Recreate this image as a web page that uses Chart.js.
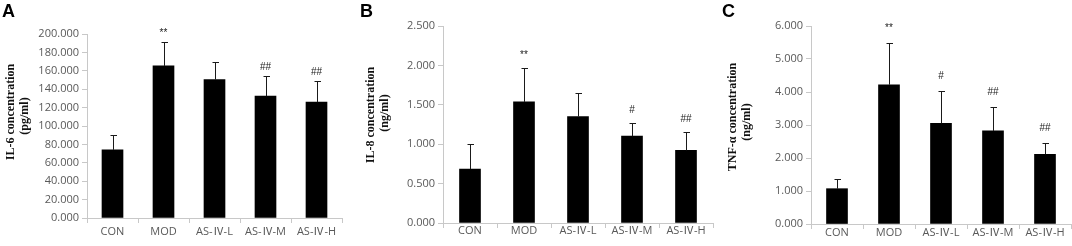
<!DOCTYPE html>
<html>
<head>
<meta charset="utf-8">
<script src="https://cdn.jsdelivr.net/npm/chart.js@4.4.0/dist/chart.umd.min.js"></script>
<style>
  @font-face {
    font-family: 'RomanNum';
    src: local('Noto Sans CJK SC'), local('NotoSansCJKsc-Regular'), local('Noto Sans CJK SC Regular');
    unicode-range: U+2160-2188;
  }
  html, body { margin: 0; padding: 0; background: #fff; }
  #wrap { position: relative; width: 1072px; height: 246px; overflow: hidden; }
  .panel { position: absolute; top: 0; height: 246px; }
</style>
</head>
<body>
<div id="wrap">
  <div class="panel" id="pA" style="left:0px;width:356px;"><canvas id="cA"></canvas></div>
  <div class="panel" id="pB" style="left:358px;width:356px;"><canvas id="cB"></canvas></div>
  <div class="panel" id="pC" style="left:712px;width:360px;"><canvas id="cC"></canvas></div>
</div>
<script>
// ---- data ----
const categories = ['CON', 'MOD', 'AS-Ⅳ-L', 'AS-Ⅳ-M', 'AS-Ⅳ-H'];

const il6Means = [74.1, 165.3, 150.5, 132.4, 125.9];
const il6Errors = [16.3, 26.0, 19.5, 22.0, 22.7];
const il6Marks = ['', '**', '', '##', '##'];
const il6Ticks = { max: 200, step: 20 };

const il8Means = [0.684, 1.537, 1.351, 1.102, 0.921];
const il8Errors = [0.316, 0.435, 0.296, 0.165, 0.236];
const il8Marks = ['', '**', '', '#', '##'];
const il8Ticks = { max: 2.5, step: 0.5 };

const tnfMeans = [1.07, 4.22, 3.05, 2.82, 2.11];
const tnfErrors = [0.28, 1.27, 0.99, 0.72, 0.33];
const tnfMarks = ['', '**', '#', '##', '##'];
const tnfTicks = { max: 6, step: 1 };

// ---- drawing ----
const TICK_FONT = '"Open Sans", "Noto Sans CJK SC", sans-serif';
const XTICK_FONT = 'RomanNum, "Open Sans", "Noto Sans CJK SC", sans-serif';
const AXIS_GREY = '#c8c8c8';
const TEXT_GREY = '#595959';

function makePanel(opt) {
  const H = 246;
  const W = opt.width;
  const left = opt.area.left - opt.offset;
  const right = opt.area.right - opt.offset;

  const extras = {
    id: 'extras_' + opt.canvas,
    afterDatasetsDraw(chart) {
      const ctx = chart.ctx;
      const ys = chart.scales.y;
      const meta = chart.getDatasetMeta(0);
      ctx.save();
      ctx.strokeStyle = '#1a1a1a';
      ctx.lineWidth = 1;
      meta.data.forEach((bar, i) => {
        const x = Math.round(bar.x) + 0.5;
        const yTop = Math.round(ys.getPixelForValue(opt.means[i] + opt.errors[i])) + 0.5;
        ctx.beginPath();
        ctx.moveTo(x, bar.y);
        ctx.lineTo(x, yTop);
        ctx.moveTo(x - 3, yTop);
        ctx.lineTo(x + 3.5, yTop);
        ctx.stroke();
        const m = opt.marks[i];
        if (m) {
          ctx.fillStyle = '#222';
          ctx.font = '10px "Liberation Sans", sans-serif';
          ctx.textAlign = 'center';
          ctx.textBaseline = 'middle';
          ctx.fillText(m, bar.x, yTop - opt.markGap);
        }
      });
      ctx.restore();
    },
    afterDraw(chart) {
      const ctx = chart.ctx;
      ctx.save();
      ctx.fillStyle = '#000';
      ctx.font = 'bold 18px "Liberation Sans", Arial, sans-serif';
      ctx.textAlign = 'left';
      ctx.textBaseline = 'top';
      ctx.fillText(opt.letter, opt.letterX, 3);
      ctx.font = 'bold 12px "Liberation Serif", "Times New Roman", serif';
      ctx.textAlign = 'center';
      ctx.textBaseline = 'middle';
      ctx.fillStyle = '#111';
      opt.title.forEach((t, k) => {
        ctx.save();
        ctx.translate(opt.titleX[k], opt.titleY[k]);
        ctx.rotate(-Math.PI / 2);
        ctx.fillText(t, 0, 0);
        ctx.restore();
      });
      ctx.restore();
    }
  };

  return new Chart(document.getElementById(opt.canvas), {
    type: 'bar',
    data: {
      labels: categories,
      datasets: [{
        data: opt.means,
        backgroundColor: '#000',
        borderWidth: 0,
        barThickness: 21
      }]
    },
    options: {
      responsive: true,
      maintainAspectRatio: false,
      animation: false,
      layout: { padding: { left: 0, right: W - right, top: opt.area.top, bottom: 0 } },
      plugins: { legend: { display: false }, tooltip: { enabled: false } },
      scales: {
        x: {
          offset: true,
          grid: { display: true, drawOnChartArea: false, drawTicks: true, tickLength: 5, color: AXIS_GREY, offset: true },
          border: { display: true, color: AXIS_GREY },
          ticks: { color: TEXT_GREY, font: { family: XTICK_FONT, size: 11 }, padding: opt.xPad, maxRotation: 0, autoSkip: false },
          afterFit(s) { s.height = H - opt.area.bottom; }
        },
        y: {
          min: 0,
          max: opt.ticks.max,
          grid: { display: true, drawOnChartArea: false, drawTicks: true, tickLength: 5, color: AXIS_GREY },
          border: { display: true, color: AXIS_GREY },
          ticks: {
            stepSize: opt.ticks.step,
            color: TEXT_GREY,
            font: { family: TICK_FONT, size: 11 },
            padding: 3,
            callback: v => Number(v).toFixed(3)
          },
          afterFit(s) { s.width = left; }
        }
      }
    },
    plugins: [extras]
  });
}

function build() {
  makePanel({
    canvas: 'cA', offset: 0, width: 356,
    area: { left: 87, right: 342, top: 34, bottom: 218 },
    means: il6Means, errors: il6Errors, marks: il6Marks, ticks: il6Ticks,
    markGap: 9, xPad: 2,
    letter: 'A', letterX: 2,
    title: ['IL-6 concentration', '(pg/ml)'], titleX: [11, 25], titleY: [112, 116]
  });
  makePanel({
    canvas: 'cB', offset: 358, width: 356,
    area: { left: 443, right: 713, top: 26, bottom: 223 },
    means: il8Means, errors: il8Errors, marks: il8Marks, ticks: il8Ticks,
    markGap: 13, xPad: -4,
    letter: 'B', letterX: 2,
    title: ['IL-8 concentration', '(ng/ml)'], titleX: [13, 27], titleY: [115, 113]
  });
  makePanel({
    canvas: 'cC', offset: 712, width: 360,
    area: { left: 811, right: 1071, top: 26, bottom: 224 },
    means: tnfMeans, errors: tnfErrors, marks: tnfMarks, ticks: tnfTicks,
    markGap: 15, xPad: -3,
    letter: 'C', letterX: 10,
    title: ['TNF-α concentration', '(ng/ml)'], titleX: [21, 35], titleY: [117, 122]
  });
}

const fontReady = (document.fonts && document.fonts.load)
  ? Promise.race([
      document.fonts.load('11px RomanNum', 'Ⅳ').catch(() => null),
      new Promise(r => setTimeout(r, 800))
    ])
  : Promise.resolve();
fontReady.then(build, build);
</script>
</body>
</html>
